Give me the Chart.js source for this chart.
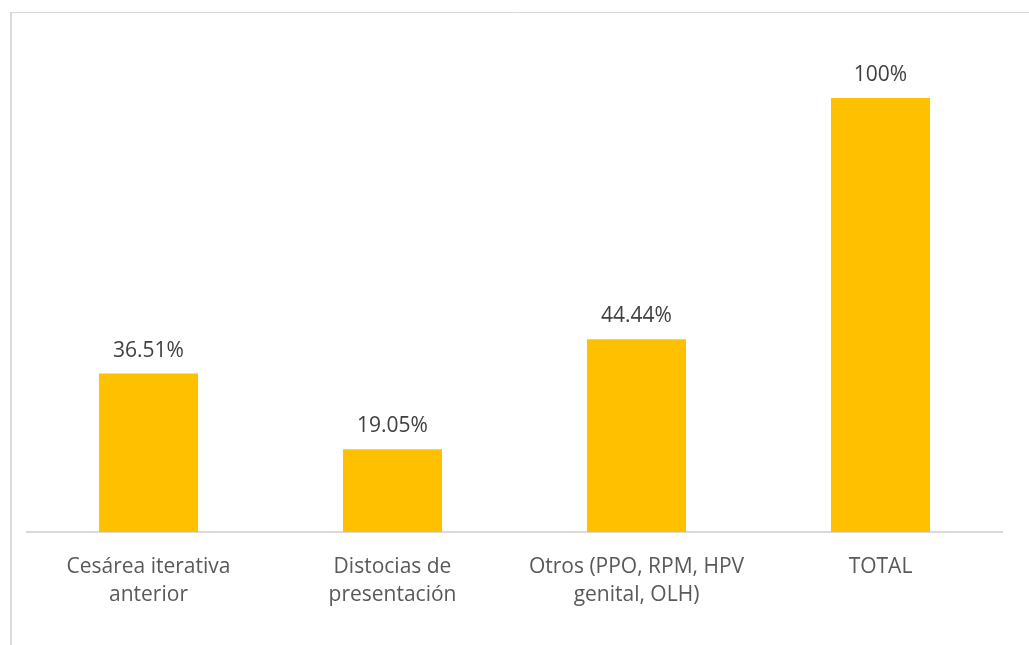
<!DOCTYPE html>
<html>
<head>
<meta charset="utf-8">
<script src="https://cdn.jsdelivr.net/npm/chart.js@4.4.0/dist/chart.umd.min.js"></script>
<style>
  html, body { margin: 0; padding: 0; background: #fff; }
</style>
</head>
<body>
<canvas id="chart_causas" width="1029" height="645"></canvas>
<script>
// Datos del gráfico
const categorias = [
    ['Cesárea iterativa', 'anterior'],
    ['Distocias de', 'presentación'],
    ['Otros (PPO, RPM, HPV', 'genital, OLH)'],
    'TOTAL'
];
const porcentajes = [36.51, 19.05, 44.44, 100];

const fuente = '"Open Sans", "Liberation Sans", sans-serif';
const ctx = document.getElementById('chart_causas');

// Marco gris del área del gráfico (borde izquierdo y superior)
const marco = {
    id: 'marco',
    beforeDraw(chart) {
        const c = chart.ctx;
        c.save();
        c.strokeStyle = '#D9D9D9';
        c.lineWidth = 2;
        c.beginPath();
        c.moveTo(11, 12);
        c.lineTo(11, chart.height);
        c.stroke();
        c.lineWidth = 1;
        c.beginPath();
        c.moveTo(10, 12.5);
        c.lineTo(chart.width, 12.5);
        c.stroke();
        c.restore();
    }
};

// Etiquetas de porcentaje sobre cada barra
const etiquetas = {
    id: 'etiquetas',
    afterDatasetsDraw(chart) {
        const c = chart.ctx;
        const meta = chart.getDatasetMeta(0);
        c.save();
        c.font = '21px ' + fuente;
        c.fillStyle = '#404040';
        c.textAlign = 'center';
        c.textBaseline = 'middle';
        meta.data.forEach((bar, i) => {
            c.fillText(porcentajes[i] + '%', bar.x, bar.y - 23);
        });
        c.restore();
    }
};

new Chart(ctx, {
    type: 'bar',
    data: {
        labels: categorias,
        datasets: [{
            data: porcentajes,
            backgroundColor: '#FFC000',
            borderWidth: 0,
            barPercentage: 0.406,
            categoryPercentage: 1
        }]
    },
    options: {
        responsive: false,
        animation: false,
        layout: {
            padding: { top: 98, left: 26.5, right: 26.5, bottom: 0 }
        },
        scales: {
            x: {
                grid: { display: false, drawTicks: false },
                border: { display: true, color: '#D9D9D9', width: 2 },
                ticks: {
                    color: '#595959',
                    padding: 21,
                    maxRotation: 0,
                    autoSkip: false,
                    font: { family: fuente, size: 21, lineHeight: 1.33 }
                },
                afterFit(scale) { scale.height = 113; }
            },
            y: {
                display: false,
                min: 0,
                max: 100
            }
        },
        plugins: {
            legend: { display: false },
            tooltip: { enabled: false },
            title: { display: false }
        }
    },
    plugins: [marco, etiquetas]
});
</script>
</body>
</html>
